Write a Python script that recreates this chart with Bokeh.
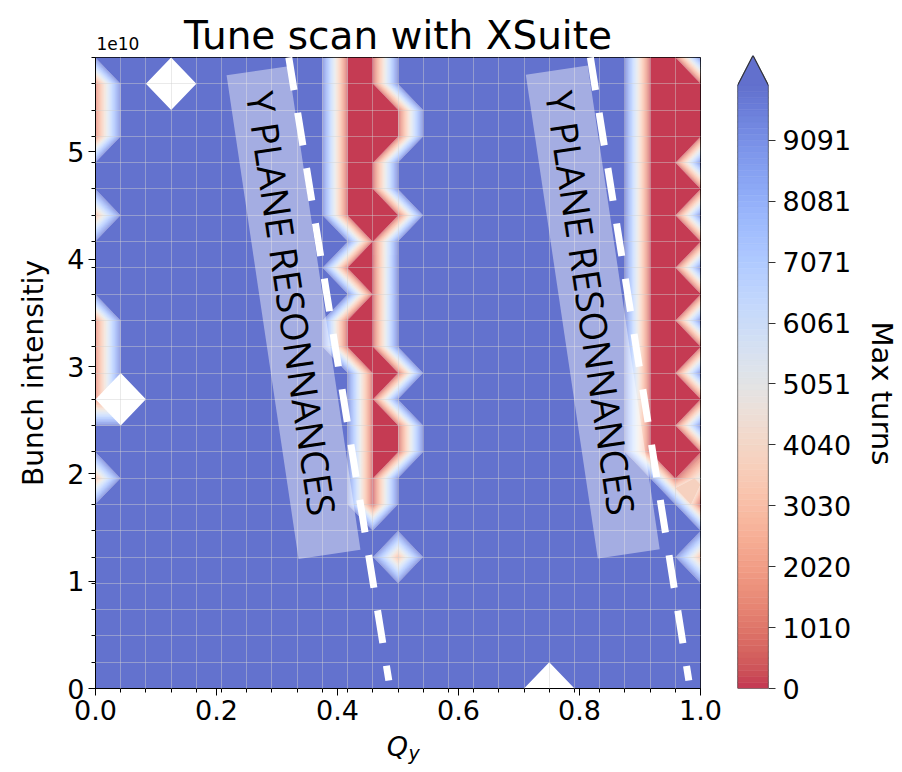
import numpy as np
from bokeh.plotting import figure
from bokeh.models import FixedTicker, LinearAxis, Range1d, NumeralTickFormatter
from bokeh.layouts import row, column
from bokeh.embed import file_html
from bokeh.resources import INLINE
from bokeh.core.properties import value

# ---------------- data ----------------
qy = [0.0, 0.0417, 0.0833, 0.125, 0.1667, 0.2083, 0.25, 0.2917, 0.3333, 0.375,
      0.4167, 0.4583, 0.5, 0.5417, 0.5833, 0.625, 0.6667, 0.7083, 0.75, 0.7917,
      0.8333, 0.875, 0.9167, 0.9583, 1.0]
intensity_e10 = [0.0, 0.245, 0.49, 0.735, 0.98, 1.225, 1.47, 1.715, 1.96, 2.205,
                 2.45, 2.695, 2.94, 3.185, 3.43, 3.675, 3.92, 4.165, 4.41, 4.655,
                 4.9, 5.145, 5.39, 5.635, 5.88]

# Max turns per scan point; one string per intensity row (top row first),
# one character per Qy column, decoded with cell_code
cell_code = {".": 10000.0, "0": 0.0, "1": 1000.0, "2": 2500.0, "5": 5000.0, "x": np.nan}
max_turns_rows = [
    "..........00..........00.",
    "1..x......00..........000",
    "1.........000.........000",
    "1.........000.........000",
    "..........00..........00.",
    "..........00..........000",
    "2.........000.........00.",
    "...........0..........000",
    "..........00..........00.",
    "...........0..........000",
    "1.........00..........00.",
    "1.........00..........000",
    "1..........00.........00.",
    "1x.........0..........000",
    "...........00.........00.",
    "...........00.........000",
    "2..........0...........05",
    "...........0............0",
    ".........................",
    "............2...........2",
    ".........................",
    ".........................",
    ".........................",
    ".........................",
    "..................x......",
]

levels = np.linspace(0.0, 10000.0, 100)
cbar_ticks = list(levels[::10])
x_ticks = [0.0, 0.2, 0.4, 0.6, 0.8, 1.0]
y_ticks = [0, 1, 2, 3, 4, 5]

# annotation geometry (hand-drawn overlays of the original)
box_cx = [0.3273, 0.8219]
box_cy = [3.503, 3.508]
text_cx = [0.3251, 0.8197]
text_cy = [3.588, 3.593]
dash_x0 = [0.3195, 0.8180]
dash_x1 = [0.4848, 0.9807]
dash_y0 = [5.88, 5.88]
dash_y1 = [0.0745, 0.0745]

# ---------------- coolwarm colormap (Moreland table) ----------------
CW = [
    (0.0, 0.2298057, 0.298717966, 0.753683153), (0.03125, 0.26623388, 0.353094838, 0.801466763),
    (0.0625, 0.30386891, 0.406535296, 0.84495867), (0.09375, 0.342804478, 0.458757618, 0.883725899),
    (0.125, 0.38301334, 0.50941904, 0.917387822), (0.15625, 0.424369608, 0.558148092, 0.945619588),
    (0.1875, 0.46666708, 0.604562568, 0.968154911), (0.21875, 0.509635204, 0.648280772, 0.98478814),
    (0.25, 0.552953156, 0.688929332, 0.995375608), (0.28125, 0.596262162, 0.726149107, 0.999836203),
    (0.3125, 0.639176211, 0.759599947, 0.998151185), (0.34375, 0.681291281, 0.788964712, 0.990363227),
    (0.375, 0.722193294, 0.813952739, 0.976575837), (0.40625, 0.761464949, 0.834302879, 0.956945269),
    (0.4375, 0.798691636, 0.849786142, 0.931688648), (0.46875, 0.833466556, 0.860207984, 0.901068838),
    (0.5, 0.865395197, 0.86541021, 0.865395561), (0.53125, 0.897787179, 0.848937047, 0.820880546),
    (0.5625, 0.924127593, 0.827384882, 0.774508472), (0.59375, 0.944468518, 0.800927443, 0.726736146),
    (0.625, 0.958852946, 0.769767752, 0.678007945), (0.65625, 0.96732803, 0.734132809, 0.628751763),
    (0.6875, 0.969954137, 0.694266682, 0.579375448), (0.71875, 0.966811177, 0.650421156, 0.530263762),
    (0.75, 0.958003065, 0.602842431, 0.481775914), (0.78125, 0.943660866, 0.551750968, 0.434243684),
    (0.8125, 0.923944917, 0.49730856, 0.387970225), (0.84375, 0.89904617, 0.439559467, 0.343229596),
    (0.875, 0.869186849, 0.378313092, 0.300267182), (0.90625, 0.834620542, 0.312874446, 0.259301199),
    (0.9375, 0.795631745, 0.24128379, 0.220525627), (0.96875, 0.752534934, 0.157246067, 0.184115123),
    (1.0, 0.705673158, 0.01555616, 0.150232812),
]
_t = [c[0] for c in CW]


def cw_hex(t, alpha=0.8):
    rgb = []
    for k in (1, 2, 3):
        v = float(np.interp(t, _t, [c[k] for c in CW]))
        v = alpha * v + (1.0 - alpha)
        rgb.append(int(round(v * 255)))
    return "#%02x%02x%02x" % tuple(rgb)


mids = 0.5 * (levels[:-1] + levels[1:])
band_colors = [cw_hex(1.0 - m / 10000.0) for m in mids]   # coolwarm reversed
over_color = cw_hex(0.0)

FONT = "DejaVu Sans"
TOTAL_H = 770
MAIN_W = 733
CBAR_W = 132
LAB_W = 35
FRAME_L = 95
FRAME_R = 700
HEAD_H = 57          # frame top of the main plot
FRAME_H = 631
MAIN_BOTTOM = 43
FOOT_Y0 = HEAD_H + FRAME_H + MAIN_BOTTOM


def blank(fig):
    fig.outline_line_color = None
    fig.grid.visible = False
    return fig


def strip_fig(y0, y1):
    # bare strip stacked with the main plot; same side borders, so its frame
    # spans page pixels FRAME_L..FRAME_R and its data coordinates are page pixels
    return blank(figure(width=MAIN_W, height=y1 - y0, title=None, x_range=Range1d(FRAME_L, FRAME_R),
                        y_range=Range1d(y1, y0), output_backend="svg", toolbar_location=None,
                        x_axis_location=None, y_axis_location=None,
                        min_border_left=FRAME_L, min_border_right=MAIN_W - FRAME_R,
                        min_border_top=0, min_border_bottom=0))


# ---------------- header (title + offset text) ----------------
head = strip_fig(0, HEAD_H)
head.text(x=[397.5], y=[34.5], text=["Tune scan with XSuite"], text_align="center",
          text_baseline="alphabetic", text_font=value(FONT), text_font_size=value("39px"),
          text_color="black")
head.text(x=[96], y=[43], text=["1e10"], text_align="left", text_baseline="alphabetic",
          text_font=value(FONT), text_font_size=value("17px"), text_color="black")

# ---------------- main plot ----------------
rows_clean = [(r + "." * 25)[:25] for r in max_turns_rows]
Z = np.array([[cell_code[c] for c in r] for r in rows_clean[::-1]])
X = np.array(qy)
Y = np.array(intensity_e10)
fill_levels = levels.copy()
fill_levels[0] = -1.0
fill_levels[-1] = 10001.0

p = figure(width=MAIN_W, height=FRAME_H + MAIN_BOTTOM, title=None, x_range=Range1d(0, 1),
           y_range=Range1d(0, 5.88), output_backend="svg", toolbar_location=None,
           min_border_left=FRAME_L, min_border_right=MAIN_W - FRAME_R, min_border_top=0,
           min_border_bottom=MAIN_BOTTOM)
p.outline_line_color = "black"
p.outline_line_width = 1

cr = p.contour(X, Y, Z, list(fill_levels), fill_color=band_colors, line_color=None)
try:
    g = cr.fill_renderer.glyph
    g.line_color = g.fill_color
    g.line_width = 0.6
except Exception:
    pass

xt = FixedTicker(ticks=x_ticks, minor_ticks=qy)
yt = FixedTicker(ticks=y_ticks, minor_ticks=intensity_e10)
p.xaxis.ticker = xt
p.yaxis.ticker = yt
p.xaxis.formatter = NumeralTickFormatter(format="0.0")
p.yaxis.formatter = NumeralTickFormatter(format="0")
p.xgrid.ticker = xt
p.ygrid.ticker = yt
p.grid.grid_line_color = None
p.grid.minor_grid_line_color = "#d0d0d0"
p.grid.minor_grid_line_alpha = 0.45
p.grid.minor_grid_line_width = 1
p.grid.level = "guide"

for ax in (p.xaxis, p.yaxis):
    ax.major_label_text_font = FONT
    ax.major_label_text_font_size = "27px"
    ax.major_label_text_color = "black"
    ax.major_tick_out = 7
    ax.major_tick_in = 0
    ax.minor_tick_out = 4
    ax.minor_tick_in = 0
    ax.axis_line_color = "black"
    ax.major_tick_line_color = "black"
    ax.minor_tick_line_color = "black"
    ax.major_label_standoff = 4

p.yaxis.axis_label = "Bunch intensitiy"
p.yaxis.axis_label_text_font = FONT
p.yaxis.axis_label_text_font_size = "28px"
p.yaxis.axis_label_text_font_style = "normal"
p.yaxis.axis_label_text_color = "black"
p.yaxis.axis_label_standoff = 14

# overlays: translucent boxes, rotated text, dashed lines
rb = p.rect(x=box_cx, y=box_cy, width=62.6, height=489.0, width_units="screen", height_units="screen",
            angle=0.1477, fill_color="white", fill_alpha=0.42, line_color=None)
rt = p.text(x=text_cx, y=text_cy, text=["Y PLANE RESONNANCES"] * 2, angle=-1.4231,
            text_font=value("Open Sans"), text_font_size=value("38px"), text_color="black",
            text_align="center", text_baseline="middle")
rs = p.segment(x0=dash_x0, y0=dash_y0, x1=dash_x1, y1=dash_y1, line_color="white",
               line_width=7, line_dash="33 23")
for r in (rb, rt, rs):
    r.level = "annotation"

# ---------------- footer (x axis label Q_y) ----------------
foot = strip_fig(FOOT_Y0, TOTAL_H)
foot.text(x=[397], y=[746], text=["Q"], text_align="center", text_baseline="alphabetic",
          text_font=value(FONT), text_font_style="italic", text_font_size=value("27px"),
          text_color="black")
foot.text(x=[408], y=[752], text=["y"], text_align="left", text_baseline="alphabetic",
          text_font=value(FONT), text_font_style="italic", text_font_size=value("19px"),
          text_color="black")

# ---------------- colorbar ----------------
cb_top = 10497.5
p2 = blank(figure(width=CBAR_W, height=TOTAL_H, title=None, x_range=Range1d(0, 1),
                  y_range=Range1d(0, cb_top), output_backend="svg", toolbar_location=None,
                  x_axis_location=None, y_axis_location=None,
                  min_border_left=4, min_border_right=CBAR_W - 35,
                  min_border_top=55, min_border_bottom=TOTAL_H - 688))
p2.quad(left=0, right=1, bottom=list(levels[:-1]), top=list(levels[1:]),
        fill_color=band_colors, line_color=band_colors, line_width=0.6)
p2.patch([0, 1, 0.5], [10000, 10000, cb_top], fill_color=over_color, line_color=over_color)
p2.line([0, 1, 1, 0.5, 0, 0], [0, 0, 10000, cb_top, 10000, 0], line_color="#333333", line_width=1.2)

cax = LinearAxis(ticker=FixedTicker(ticks=cbar_ticks), formatter=NumeralTickFormatter(format="0"))
cax.axis_line_color = None
cax.major_tick_out = 7
cax.major_tick_in = 0
cax.minor_tick_out = 0
cax.major_tick_line_color = "#333333"
cax.major_label_text_font = FONT
cax.major_label_text_font_size = "27px"
cax.major_label_text_color = "black"
cax.major_label_standoff = 7
p2.add_layout(cax, "right")

# colorbar label, in its own narrow strip (data coordinates = page pixels)
x_lab0 = MAIN_W + CBAR_W
lab = blank(figure(width=LAB_W, height=TOTAL_H, title=None, x_range=Range1d(x_lab0, x_lab0 + LAB_W),
                   y_range=Range1d(TOTAL_H, 0), output_backend="svg", toolbar_location=None,
                   x_axis_location=None, y_axis_location=None, min_border=0))
lab.text(x=[881], y=[411], text=["Max turns"], angle=-np.pi / 2, text_align="center",
         text_baseline="middle", text_font=value(FONT), text_font_size=value("29px"),
         text_color="black")

layout = row(column(head, p, foot), p2, lab)
open("out.html", "w").write(file_html(layout, INLINE))
